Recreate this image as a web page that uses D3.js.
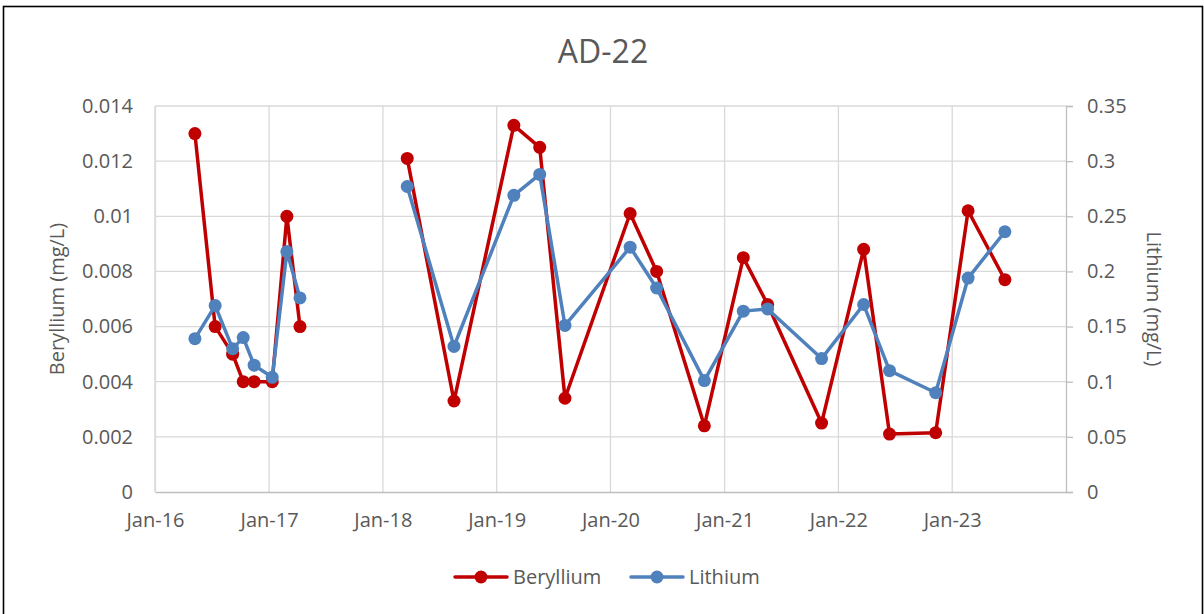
<!DOCTYPE html>
<html>
<head>
<meta charset="utf-8">
<script src="https://cdn.jsdelivr.net/npm/d3@7"></script>
<style>
  body { margin: 0; background: #fff; }
  text { font-family: "Open Sans", sans-serif; fill: #595959; }
</style>
</head>
<body>
<svg id="chart" width="1204" height="614"></svg>
<script>
// sampling dates (a blank row splits the record like in the source sheet)
var sampleDates = ["2016-05-08", "2016-07-12", "2016-09-06", "2016-10-10", "2016-11-14",
                   "2017-01-11", "2017-02-27", "2017-04-10", "2017-10-01",
                   "2018-03-20", "2018-08-17", "2019-02-25", "2019-05-19", "2019-08-08",
                   "2020-03-04", "2020-05-28", "2020-10-28", "2021-03-02", "2021-05-19",
                   "2021-11-08", "2022-03-23", "2022-06-14", "2022-11-09", "2023-02-21",
                   "2023-06-19"];
var beryllium = [0.013, 0.006, 0.005, 0.004, 0.004, 0.004, 0.010, 0.006, null,
                 0.0121, 0.0033, 0.0133, 0.0125, 0.0034, 0.0101, 0.0080, 0.0024,
                 0.0085, 0.0068, 0.0025, 0.0088, 0.0021, 0.00215, 0.0102, 0.0077];
var lithium = [0.139, 0.169, 0.130, 0.140, 0.115, 0.104, 0.218, 0.176, null,
               0.277, 0.132, 0.269, 0.288, 0.151, 0.222, 0.185, 0.101,
               0.164, 0.166, 0.121, 0.170, 0.110, 0.090, 0.194, 0.236];
var leftTicks = [0, 0.002, 0.004, 0.006, 0.008, 0.01, 0.012, 0.014];
var rightTicks = [0, 0.05, 0.1, 0.15, 0.2, 0.25, 0.3, 0.35];
var yearTicks = ["2016-01-01", "2017-01-01", "2018-01-01", "2019-01-01", "2020-01-01",
                 "2021-01-01", "2022-01-01", "2023-01-01", "2024-01-01"];

var parse = d3.timeParse("%Y-%m-%d");
var svg = d3.select("#chart"),
    MARGINS = { top: 106, right: 138, bottom: 122, left: 155 },
    WIDTH = 1204, HEIGHT = 614;

var xScale = d3.scaleTime()
    .domain([parse("2016-01-01"), parse("2024-01-01")])
    .range([MARGINS.left, WIDTH - MARGINS.right]);
var yLeft = d3.scaleLinear().domain([0, 0.014]).range([HEIGHT - MARGINS.bottom, MARGINS.top]);
var yRight = d3.scaleLinear().domain([0, 0.35]).range([HEIGHT - MARGINS.bottom, MARGINS.top]);

var data = sampleDates.map(function(d, i) {
    return { date: parse(d), be: beryllium[i], li: lithium[i] };
});

// outer frame
svg.append("rect")
   .attr("x", 3.5).attr("y", 6.5)
   .attr("width", 1199).attr("height", 620)
   .attr("fill", "none").attr("stroke", "#000").attr("stroke-width", 1.6);

// gridlines
svg.append("g").selectAll("line")
   .data(leftTicks.slice(1)).enter().append("line")
   .attr("x1", MARGINS.left).attr("x2", WIDTH - MARGINS.right)
   .attr("y1", function(d) { return yLeft(d); })
   .attr("y2", function(d) { return yLeft(d); })
   .attr("stroke", "#d9d9d9").attr("stroke-width", 1.3);

svg.append("g").selectAll("line")
   .data(yearTicks.slice(0, -1)).enter().append("line")
   .attr("x1", function(d) { return xScale(parse(d)); })
   .attr("x2", function(d) { return xScale(parse(d)); })
   .attr("y1", MARGINS.top).attr("y2", HEIGHT - MARGINS.bottom)
   .attr("stroke", "#d9d9d9").attr("stroke-width", 1.3);

// axes
var xAxis = d3.axisBottom(xScale)
    .tickValues(yearTicks.slice(0, -1).map(parse))
    .tickFormat(d3.timeFormat("%b-%y"))
    .tickSize(0).tickPadding(21);
var gx = svg.append("g")
   .attr("transform", "translate(0," + (HEIGHT - MARGINS.bottom) + ")")
   .call(xAxis);
gx.select(".domain").attr("stroke", "#bfbfbf").attr("stroke-width", 1.3);
gx.selectAll("text").style("font-size", "20px").attr("fill", "#595959");

var gl = svg.append("g")
   .attr("transform", "translate(" + MARGINS.left + ",0)")
   .call(d3.axisLeft(yLeft).tickValues(leftTicks).tickFormat(d3.format("")).tickSize(0).tickPadding(22));
gl.select(".domain").attr("stroke", "#d9d9d9").attr("stroke-width", 1.3);
gl.selectAll("text").style("font-size", "20px").attr("fill", "#595959");

var gr = svg.append("g")
   .attr("transform", "translate(" + (WIDTH - MARGINS.right) + ",0)")
   .call(d3.axisRight(yRight).tickValues(rightTicks).tickFormat(d3.format("")).tickSize(7).tickPadding(14));
gr.select(".domain").attr("stroke", "#bfbfbf").attr("stroke-width", 1.3);
gr.selectAll(".tick line").attr("stroke", "#bfbfbf").attr("stroke-width", 1.3);
gr.selectAll("text").style("font-size", "20px").attr("fill", "#595959");

// titles
svg.append("text")
   .attr("x", 603).attr("y", 63)
   .attr("text-anchor", "middle")
   .style("font-size", "32px")
   .text("AD-22");

svg.append("text")
   .attr("transform", "translate(64," + yLeft(0.007) + ") rotate(-90)")
   .attr("text-anchor", "middle")
   .style("font-size", "20px")
   .text("Beryllium (mg/L)");

svg.append("text")
   .attr("transform", "translate(1147," + yLeft(0.007) + ") rotate(90)")
   .attr("text-anchor", "middle")
   .style("font-size", "20px")
   .text("Lithium (mg/L)");

// series
var series = [
    { name: "Beryllium", key: "be", color: "#c00000", y: yLeft },
    { name: "Lithium", key: "li", color: "#4f81bd", y: yRight }
];

series.forEach(function(s) {
    var lineGen = d3.line()
        .defined(function(d) { return d[s.key] != null; })
        .x(function(d) { return xScale(d.date); })
        .y(function(d) { return s.y(d[s.key]); });

    svg.append("path")
       .attr("d", lineGen(data))
       .attr("stroke", s.color)
       .attr("stroke-width", 3.5)
       .attr("stroke-linejoin", "round")
       .attr("fill", "none");

    svg.append("g").selectAll("circle")
       .data(data.filter(function(d) { return d[s.key] != null; }))
       .enter().append("circle")
       .attr("r", 6.5)
       .attr("cx", function(d) { return xScale(d.date); })
       .attr("cy", function(d) { return s.y(d[s.key]); })
       .attr("fill", s.color);
});

// legend
var legend = svg.append("g").attr("transform", "translate(455,577)");
var items = legend.selectAll("g").data(series).enter().append("g")
    .attr("transform", function(d, i) { return "translate(" + (i * 176) + ",0)"; });
items.append("line")
     .attr("x1", 0).attr("x2", 52)
     .attr("stroke", function(d) { return d.color; })
     .attr("stroke-width", 3.5).attr("stroke-linecap", "round");
items.append("circle")
     .attr("cx", 26).attr("r", 6.5)
     .attr("fill", function(d) { return d.color; });
items.append("text")
     .attr("x", 58).attr("dy", "0.35em")
     .style("font-size", "20px")
     .text(function(d) { return d.name; });
</script>
</body>
</html>
